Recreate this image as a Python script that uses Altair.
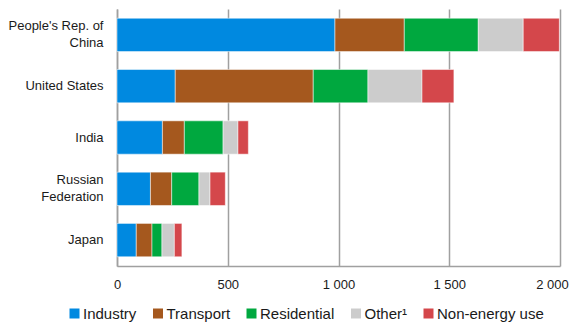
import altair as alt
import pandas as pd

countries = ["People's Rep. of|China", "United States", "India", "Russian|Federation", "Japan"]
sectors = ["Industry", "Transport", "Residential", "Other¹", "Non-energy use"]
colors = ["#0089E0", "#A5581E", "#00A83F", "#CCCCCC", "#D4474B"]

industry = [984, 263, 205, 151, 87]
transport = [313, 623, 99, 96, 71]
residential = [334, 247, 175, 123, 45]
other = [203, 244, 67, 50, 56]
non_energy = [163, 144, 47, 69, 34]

series = [industry, transport, residential, other, non_energy]
rows = []
for si, (s, vals) in enumerate(zip(sectors, series)):
    for c, v in zip(countries, vals):
        rows.append({"country": c, "sector": s, "value": v, "order": si})
df = pd.DataFrame(rows)

chart = alt.Chart(df).mark_bar(stroke="white", strokeWidth=0.5).encode(
    y=alt.Y("country:N", sort=countries, title=None,
            scale=alt.Scale(paddingInner=0.35, paddingOuter=0.18),
            axis=alt.Axis(labelExpr="split(datum.label, '|')", labelFontSize=13,
                          labelFont="Liberation Sans", labelColor="#1a1a1a",
                          labelPadding=14, ticks=False, domainColor="#a0a0a0",
                          domainWidth=1.5, labelLineHeight=17.5,
                          labelOffset={"condition": {"test": "indexof(datum.value, '|') >= 0", "value": -9}, "value": 0})),
    x=alt.X("value:Q", title=None, stack="zero",
            scale=alt.Scale(domain=[0, 2000], nice=False),
            axis=alt.Axis(values=[0, 500, 1000, 1500, 2000],
                          labelExpr="replace(format(datum.value, ','), ',', ' ')",
                          labelFontSize=13, labelFont="Liberation Sans", labelColor="#1a1a1a",
                          ticks=False, grid=True, gridColor="#a0a0a0", gridWidth=1.5,
                          domainColor="#a0a0a0", domainWidth=1.5, labelPadding=12,
                          labelFlush=False,
                          labelOffset={"condition": {"test": "datum.value == 2000", "value": -8}, "value": 0})),
    color=alt.Color("sector:N", sort=sectors,
                    scale=alt.Scale(domain=sectors, range=colors),
                    legend=alt.Legend(title=None, orient="none", direction="horizontal",
                                      legendX=-50, legendY=297, gridAlign="none",
                                      symbolType="square", symbolSize=100,
                                      symbolStrokeWidth=0, labelFontSize=15,
                                      labelFont="Liberation Sans", labelColor="#1a1a1a",
                                      labelOffset=1, columnPadding=13.5)),
    order=alt.Order("order:Q"),
).properties(
    width=443, height=257,
    autosize=alt.AutoSizeParams(type="none"),
    padding={"left": 109, "top": 1, "right": 10, "bottom": 56},
).configure_view(stroke=None)

chart.save("out.html", embed_options={"renderer": "svg", "actions": False})
